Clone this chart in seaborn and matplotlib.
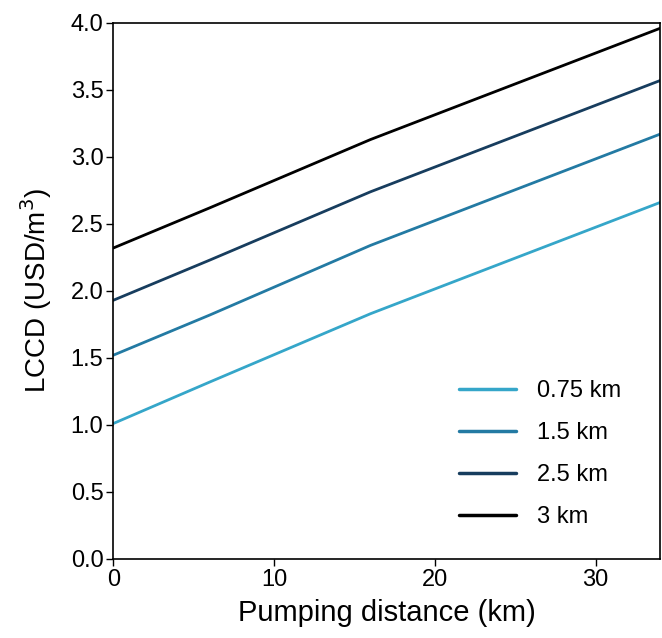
import matplotlib
matplotlib.use("Agg")
import matplotlib.pyplot as plt
import seaborn as sns
import pandas as pd

sns.set_style("ticks")
plt.rcParams['font.family'] = ['Liberation Sans', 'DejaVu Sans']
for k in ['text.color', 'axes.labelcolor', 'xtick.color', 'ytick.color', 'axes.edgecolor']:
    plt.rcParams[k] = 'black'

distance = [0, 6, 16, 22.5, 34]
lccd_075 = [1.01, 1.32, 1.83, 2.13, 2.66]
lccd_15 = [1.52, 1.82, 2.34, 2.64, 3.17]
lccd_25 = [1.93, 2.23, 2.74, 3.04, 3.57]
lccd_3 = [2.32, 2.62, 3.13, 3.43, 3.96]
labels = ["0.75 km", "1.5 km", "2.5 km", "3 km"]
colors = ["#35a6c9", "#237aa3", "#173d5e", "#000000"]

rows = []
for lab, ys in zip(labels, [lccd_075, lccd_15, lccd_25, lccd_3]):
    for x, y in zip(distance, ys):
        rows.append({"d": x, "v": y, "s": lab})
df = pd.DataFrame(rows)

fig = plt.figure(figsize=(6.62, 6.38), dpi=100)
ax = fig.add_axes([0.171, 0.124, 0.826, 0.840])
sns.lineplot(data=df, x="d", y="v", hue="s", hue_order=labels,
             palette=colors, ax=ax, linewidth=2)
ax.set_xlim(0, 34)
ax.set_ylim(0, 4)
yt = [0, 0.5, 1, 1.5, 2, 2.5, 3, 3.5, 4]
ax.set_yticks(yt)
ax.set_yticklabels([f"{v:.1f}" for v in yt])
ax.set_xticks([0, 10, 20, 30])
ax.tick_params(labelsize=17, length=5, width=1, pad=2)
ax.set_xlabel("Pumping distance (km)", fontsize=21, labelpad=6)
ax.set_ylabel("LCCD (USD/m$^3$)", fontsize=20, labelpad=12)
for sp in ax.spines.values():
    sp.set_visible(True)
    sp.set_linewidth(1.2)
leg = ax.legend(loc="lower right", frameon=False, fontsize=17,
                handlelength=2.4, handletextpad=0.9, labelspacing=0.85,
                borderaxespad=0.9, bbox_to_anchor=(0.985, 0.0))
for h in leg.get_lines():
    h.set_linewidth(2.5)
fig.savefig("out.png", dpi=100)
